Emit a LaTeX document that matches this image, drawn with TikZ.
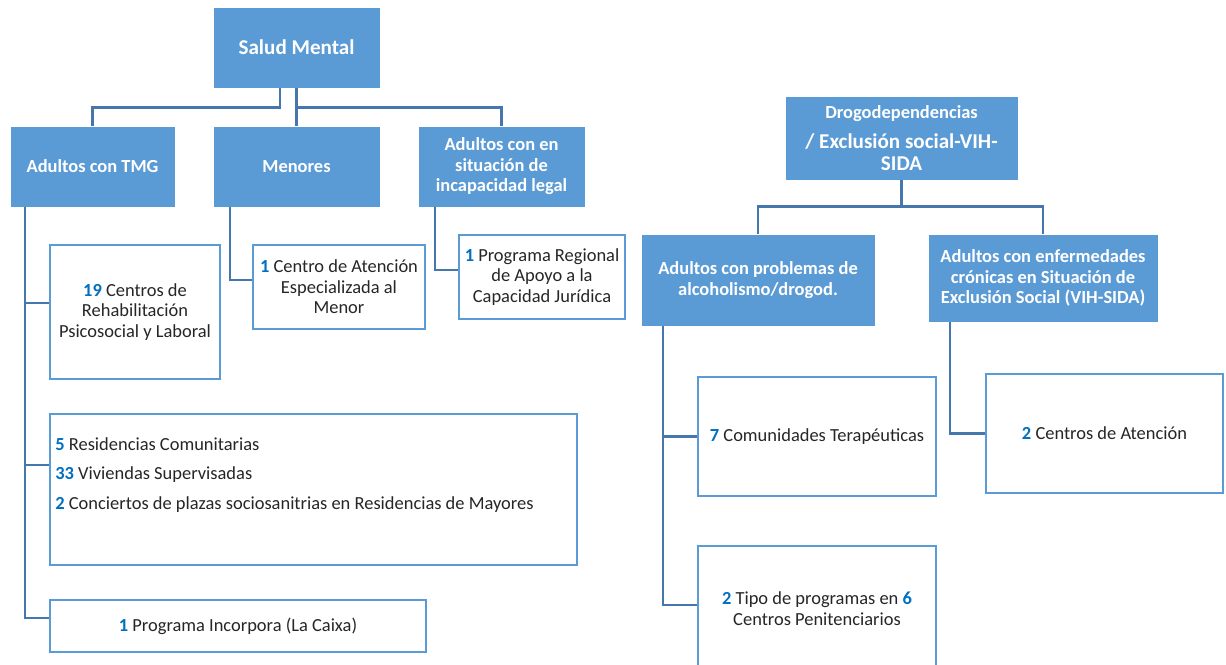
\documentclass[tikz,border=0pt]{standalone}
\usepackage{fontspec}
\setmainfont{Carlito}
\usetikzlibrary{positioning}
\definecolor{boxblue}{HTML}{5B9BD5}
\definecolor{lineblue}{HTML}{4677AC}
\definecolor{numblue}{HTML}{0070C0}
\newcommand{\nb}[1]{\textcolor{numblue}{\textbf{#1}}}

\begin{document}
\begin{tikzpicture}[x=0.02cm,y=-0.02cm,
    head/.style={fill=boxblue,draw=white,line width=0.4pt,text=white,align=center,
        font=\fontsize{10.5}{11.7}\selectfont\bfseries,inner sep=2pt},
    item/.style={draw=boxblue,line width=1.4pt,fill=white,text=black!85,align=center,
        font=\fontsize{10.5}{11.7}\selectfont,inner sep=2pt},
    link/.style={draw=lineblue,line width=1.6pt}]

    \useasboundingbox (0,0) rectangle (1226,664);
    \clip (0,0) rectangle (1226,664);

    \node[head,minimum width=3.34cm,minimum height=1.62cm,font=\fontsize{12}{14}\selectfont\bfseries] (sm) at (296.5,47.5) {Salud Mental};
    \node[head,minimum width=3.30cm,minimum height=1.62cm] (tmg) at (92.5,166.5) {Adultos con TMG};
    \node[head,minimum width=3.34cm,minimum height=1.62cm] (men) at (296.5,166.5) {Menores};
    \node[head,minimum width=3.34cm,minimum height=1.62cm] (inc) at (501.5,166.5) {Adultos con en\\situación de\\incapacidad legal};

    \node[item,minimum width=3.40cm,minimum height=2.68cm] (crps) at (135,312) {\nb{19} Centros de\\Rehabilitación\\Psicosocial y Laboral};
    \node[item,minimum width=10.54cm,minimum height=3.02cm] (resid) at (313.5,489.5) {};
    \node[anchor=west,align=left,inner sep=0pt,text=black!85,font=\fontsize{10.5}{16.6}\selectfont] (residtxt) at (55,475)
        {\nb{5} Residencias Comunitarias\\\nb{33} Viviendas Supervisadas\\\nb{2} Conciertos de plazas sociosanitrias en Residencias de Mayores};
    \node[item,minimum width=7.52cm,minimum height=1.04cm] (incorp) at (238,626) {\nb{1} Programa Incorpora (La Caixa)};
    \node[item,minimum width=3.44cm,minimum height=1.68cm] (cae) at (339,287) {\nb{1} Centro de Atención\\Especializada al\\Menor};
    \node[item,minimum width=3.32cm,minimum height=1.68cm] (prj) at (542,277) {\nb{1} Programa Regional\\de Apoyo a la\\Capacidad Jurídica};

    \node[head,minimum width=4.66cm,minimum height=1.68cm,font=\fontsize{12}{12.5}\selectfont\bfseries] (drog) at (901.5,138)
        {{\fontsize{10.5}{11.7}\selectfont Drogodependencias}\\[5pt]/ Exclusión social-VIH-\\SIDA};
    \node[head,minimum width=4.68cm,minimum height=1.84cm] (alc) at (758,280) {Adultos con problemas de\\alcoholismo/drogod.};
    \node[head,minimum width=4.60cm,minimum height=1.76cm] (vih) at (1043,278) {Adultos con enfermedades\\crónicas en Situación de\\Exclusión Social (VIH-SIDA)};

    \node[item,minimum width=4.76cm,minimum height=2.38cm] (ct) at (817,436.5) {\nb{7} Comunidades Terapéuticas};
    \node[item,minimum width=4.76cm,minimum height=2.50cm] (pen) at (817,608.5) {\nb{2} Tipo de programas en \nb{6}\\Centros Penitenciarios};
    \node[item,minimum width=4.74cm,minimum height=2.38cm] (aten) at (1104.5,433.5) {\nb{2} Centros de Atención};

    \draw[link] ([xshift=-0.33cm]sm.south) -- ++(0,19) -| (tmg.north);
    \draw[link] (sm.south) -- (men.north);
    \draw[link] (sm.south) -- ++(0,19) -| (inc.north);

    \draw[link] ([xshift=-1.35cm]tmg.south) |- ([yshift=0.18cm]crps.west);
    \draw[link] ([xshift=-1.35cm]tmg.south) |- ([yshift=0.49cm]resid.west);
    \draw[link] ([xshift=-1.35cm]tmg.south) |- ([yshift=0.16cm]incorp.west);
    \draw[link] ([xshift=-1.33cm]men.south) |- ([yshift=0.14cm]cae.west);
    \draw[link] ([xshift=-1.33cm]inc.south) |- ([yshift=0.14cm]prj.west);

    \draw[link] (drog.south) -- ++(0,26) -| (alc.north);
    \draw[link] (drog.south) -- ++(0,26) -| (vih.north);
    \draw[link] ([xshift=-1.9cm]alc.south) |- (ct.west);
    \draw[link] ([xshift=-1.9cm]alc.south) |- ([yshift=0.07cm]pen.west);
    \draw[link] ([xshift=-1.86cm]vih.south) |- (aten.west);
\end{tikzpicture}
\end{document}
